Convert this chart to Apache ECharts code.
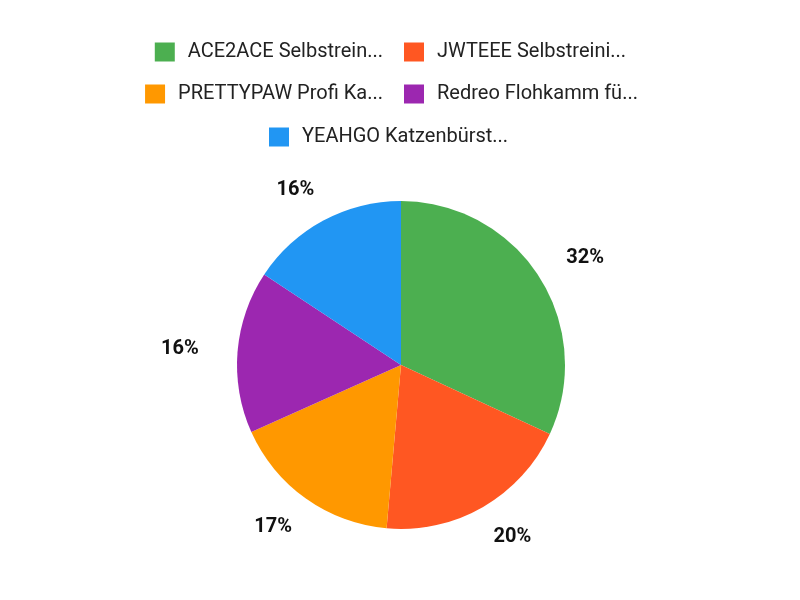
<!DOCTYPE html>
<html style="height: 100%">
<head>
<meta charset="utf-8">
<script type="text/javascript" src="https://cdn.jsdelivr.net/npm/echarts@6/dist/echarts.min.js"></script>
</head>
<body style="height: 100%; margin: 0; background: #fff">
	<div id="container" style="width: 800px; height: 600px;"></div>
	<script type="text/javascript">
		// Produktnamen (wie in der Legende gekürzt)
		var names = [ 'ACE2ACE Selbstrein...', 'JWTEEE Selbstreini...',
				'PRETTYPAW Profi Ka...', 'Redreo Flohkamm fü...',
				'YEAHGO Katzenbürst...' ];
		// Anteile
		var values = [ 31.9, 19.5, 16.9, 16.0, 15.7 ];
		var colors = [ '#4CAF50', '#FF5722', '#FF9800', '#9C27B0', '#2196F3' ];

		var pieCenter = [ 401, 365 ];

		var data = [];
		for (var i = 0; i < names.length; i++) {
			data.push({
				name : names[i],
				value : values[i]
			});
		}

		var legendText = {
			fontFamily : 'Roboto',
			fontSize : 20,
			color : '#222',
			padding : [ 0, 0, 0, 8 ]
		};
		function legendItem(idx, pos) {
			var l = {
				data : [ names[idx] ],
				orient : 'horizontal',
				padding : 0,
				itemWidth : 20,
				itemHeight : 19,
				itemGap : 0,
				icon : 'rect',
				textStyle : legendText,
				selectedMode : false
			};
			for ( var k in pos)
				l[k] = pos[k];
			return l;
		}

		var dom = document.getElementById("container");
		var myChart = echarts.init(dom);
		var option = {
			color : colors,
			animation : false,
			legend : [ legendItem(0, {
				right : 417,
				top : 42
			}), legendItem(1, {
				left : 404,
				top : 42
			}), legendItem(2, {
				right : 417,
				top : 84
			}), legendItem(3, {
				left : 404,
				top : 84
			}), legendItem(4, {
				left : 269,
				top : 127
			}) ],
			series : [ {
				type : 'pie',
				radius : 164,
				center : pieCenter,
				startAngle : 90,
				clockwise : true,
				data : data,
				label : {
					position : 'outside',
					fontFamily : 'Roboto',
					fontSize : 20,
					fontWeight : 'bold',
					color : '#111',
					formatter : function(p) {
						return Math.round(p.percent) + '%';
					}
				},
				labelLine : {
					show : false,
					length : 35,
					length2 : 0
				},
				// oben/unten liegende Labels etwas zur Mitte ziehen
				labelLayout : function(p) {
					var r = p.labelRect;
					var vx = r.x + r.width / 2 - pieCenter[0];
					var vy = r.y + r.height / 2 - pieCenter[1];
					var len = Math.sqrt(vx * vx + vy * vy);
					var shift = -(vx < 0 ? -1 : 1) * 15 * Math.abs(vy) / len;
					return {
						dx : shift
					};
				},
				itemStyle : {
					borderWidth : 0
				},
				emphasis : {
					scale : false
				}
			} ]
		};
		myChart.setOption(option);
	</script>
</body>
</html>
